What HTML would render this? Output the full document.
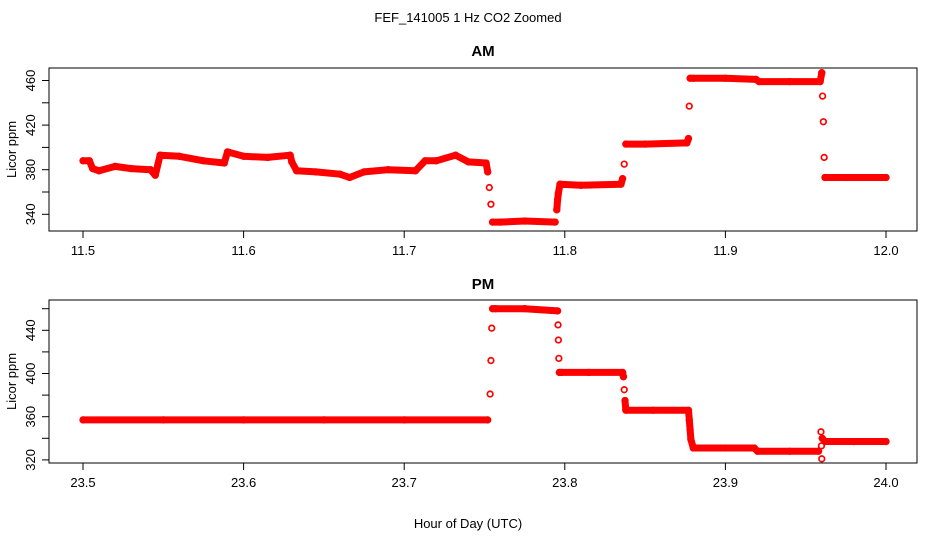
<!DOCTYPE html>
<html><head><meta charset="utf-8"><style>
body{margin:0;background:#fff}
svg{display:block;font-family:"Liberation Sans",sans-serif}
</style></head><body>
<svg id="c" width="936" height="540">
<text x="468" y="22" font-size="13" text-anchor="middle">FEF_141005  1 Hz CO2 Zoomed</text>
<text x="483" y="56" font-size="15" font-weight="bold" text-anchor="middle">AM</text>
<text x="483" y="289" font-size="15" font-weight="bold" text-anchor="middle">PM</text>
<text x="468" y="528" font-size="13" text-anchor="middle">Hour of Day (UTC)</text>
</svg>
<script>
const amTicksX=[11.5,11.6,11.7,11.8,11.9,12.0];
const amTickLabelsX=["11.5","11.6","11.7","11.8","11.9","12.0"];
const pmTicksX=[23.5,23.6,23.7,23.8,23.9,24.0];
const pmTickLabelsX=["23.5","23.6","23.7","23.8","23.9","24.0"];
const amTicksY=[340,360,380,400,420,440,460];
const amLabelsY=[340,380,420,460];
const pmTicksY=[320,340,360,380,400,420,440,460];
const pmLabelsY=[320,360,400,440];
const amT=[11.500,11.504,11.506,11.510,11.520,11.530,11.542,11.545,11.548,11.560,11.575,11.588,11.590,11.600,11.615,11.629,11.630,11.633,11.645,11.660,11.666,11.675,11.690,11.707,11.713,11.720,11.732,11.740,11.751,11.752,11.753,11.754,11.755,11.760,11.775,11.794,11.795,11.7955,11.796,11.797,11.810,11.835,11.836,11.837,11.838,11.850,11.876,11.877,11.8775,11.878,11.880,11.900,11.919,11.921,11.940,11.959,11.960,11.9605,11.961,11.9615,11.962,11.975,12.000];
const amV=[388,388,381,379,383,381,380,375,393,392,388,386,396,392,391,393,387,379,378,376,373,378,380,379,388,388,393,387,386,378,364,349,333,333,334,333,344,353,359,367,366,367,372,385,403,403,404,408,437,462,462,462,461,459,459,459,467,446,423,391,373,373,373];
const pmT=[23.500,23.550,23.600,23.650,23.700,23.752,23.7535,23.754,23.7545,23.755,23.757,23.775,23.7955,23.7958,23.796,23.7963,23.7966,23.798,23.815,23.836,23.8365,23.837,23.8375,23.838,23.855,23.877,23.8775,23.878,23.8785,23.880,23.900,23.918,23.920,23.940,23.958,23.9595,23.9598,23.960,23.9603,23.962,23.980,24.000];
const pmV=[357,357,357,357,357,357,381,412,442,460,460,460,458,445,431,414,401,401,401,401,397,385,375,366,366,366,357,348,339,331,331,331,328,328,328,346,333,321,340,337,337,337];

const svg=document.getElementById('c');
const NS='http://www.w3.org/2000/svg';
function el(tag,attrs,parent){const e=document.createElementNS(NS,tag);for(const k in attrs)e.setAttribute(k,attrs[k]);(parent||svg).appendChild(e);return e;}

function panel(name,top,bottom,x0,x1,vRef,yRef,pxPer,ticksX,labelsX,ticksY,labelsY,T,V){
  const L=49,R=917;
  const xs=h=>886-(x1-h)*1606;
  const ys=v=>yRef-(v-vRef)*pxPer;
  const g=el('g',{});
  
  
  const box=el('rect',{x:L,y:top,width:R-L,height:bottom-top,fill:'none',stroke:'#000','stroke-width':1},g);
  
  
  ticksX.forEach((t,i)=>{
    const x=xs(t);
    const tk=el('line',{x1:x,x2:x,y1:bottom,y2:bottom+7,stroke:'#000'},g);
    
    
    const tx=el('text',{x:x,y:bottom+24,'font-size':13,'text-anchor':'middle'},g);
    tx.textContent=labelsX[i];
    
    
  });
  ticksY.forEach(v=>{
    const y=ys(v);
    const tk=el('line',{x1:L-7,x2:L,y1:y,y2:y,stroke:'#000'},g);
    
    
    if(labelsY.includes(v)){
      const tx=el('text',{x:0,y:0,'font-size':13,'text-anchor':'middle',transform:`translate(${L-14},${y}) rotate(-90)`},g);
      tx.textContent=String(v);
      
      
    }
  });
  const yl=el('text',{x:0,y:0,'font-size':13,'text-anchor':'middle',transform:`translate(16,${(top+bottom)/2}) rotate(-90)`},g);
  yl.textContent='Licor ppm';
  
  
  let d='';
  for(let i=0;i<T.length;i++){
    const x=xs(T[i]),y=ys(V[i]);
    const cont=i>0&&(Math.abs(V[i]-V[i-1])<=9||(T[i]-T[i-1])>=0.0019);
    d+=(cont?'L':'M')+x.toFixed(1)+' '+y.toFixed(1);
  }
  const p=el('path',{d:d,fill:'none',stroke:'#ff0000','stroke-width':7,'stroke-linecap':'round','stroke-linejoin':'round'},g);
  
  
  for(let i=0;i<T.length;i++){
    const c=el('circle',{cx:xs(T[i]),cy:ys(V[i]),r:2.8,fill:'none',stroke:'#ff0000','stroke-width':1.7},g);
    
    
  }
}
panel('am',68,231,11.5,12.0,380,169.7,1.115,amTicksX,amTickLabelsX,amTicksY,amLabelsY,amT,amV);
panel('pm',300,463,23.5,24.0,360,416.7,1.08,pmTicksX,pmTickLabelsX,pmTicksY,pmLabelsY,pmT,pmV);
</script>
</body></html>
